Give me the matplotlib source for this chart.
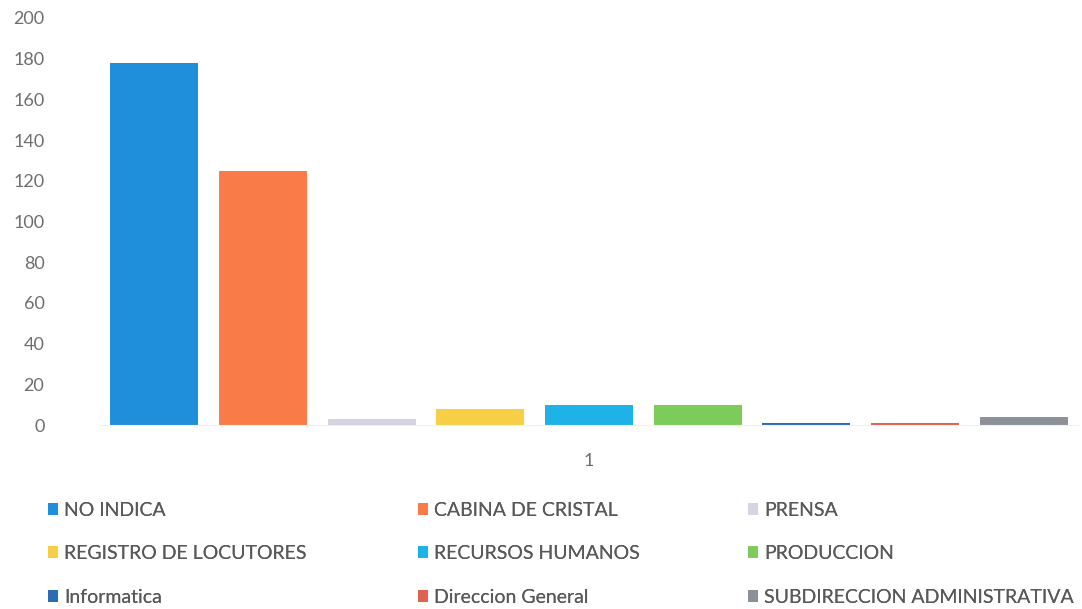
import matplotlib.pyplot as plt

plt.rcParams['font.family'] = ['Lato', 'DejaVu Sans']

# Data (single category "1")
categories = ['NO INDICA', 'CABINA DE CRISTAL', 'PRENSA',
              'REGISTRO DE LOCUTORES', 'RECURSOS HUMANOS', 'PRODUCCION',
              'Informatica', 'Direccion General', 'SUBDIRECCION ADMINISTRATIVA']
values = [178, 125, 3, 8, 10, 10, 1, 1, 4]
colors = ['#1f8fdc', '#f97c48', '#d4d4e2', '#f6cf45', '#1fb2e6',
          '#7ccb5b', '#2a6db5', '#e0624f', '#8b9099']
y_ticks = [0, 20, 40, 60, 80, 100, 120, 140, 160, 180, 200]
x_label = '1'

fig = plt.figure(figsize=(10.82, 6.09), dpi=100)
ax = fig.add_axes([100 / 1082, 1 - 425 / 609, 978 / 1082, 407 / 609])

n = len(values)
handles = []
for i, (cat, val, col) in enumerate(zip(categories, values, colors)):
    h = ax.bar(i - (n - 1) / 2, val, width=0.81, color=col, label=cat)
    handles.append(h)

ax.set_xlim(-4.5, 4.5)
ax.set_ylim(0, 200)
ax.set_yticks(y_ticks)
ax.set_xticks([0])
ax.set_xticklabels([x_label])
ax.tick_params(axis='y', length=0, pad=40, labelsize=13, labelcolor='#6e6e6e')
ax.tick_params(axis='x', length=0, pad=20, labelsize=13, labelcolor='#6e6e6e')
for s in ['top', 'right', 'left']:
    ax.spines[s].set_visible(False)
ax.spines['bottom'].set_color('#f0f0f0')

# legend laid out row-wise in three columns
col_x = [40 / 1082, 410 / 1082, 740 / 1082]
for c in range(3):
    idx = [c, c + 3, c + 6]
    leg = fig.legend([handles[k] for k in idx], [categories[k] for k in idx],
                     loc='upper left', bbox_to_anchor=(col_x[c], 1 - 494 / 609),
                     frameon=False, fontsize=14, labelcolor='#595959',
                     handlelength=0.55, handleheight=0.55, handletextpad=0.3,
                     labelspacing=1.36, borderaxespad=0)
    fig.add_artist(leg)

fig.savefig('out.png', dpi=100)
